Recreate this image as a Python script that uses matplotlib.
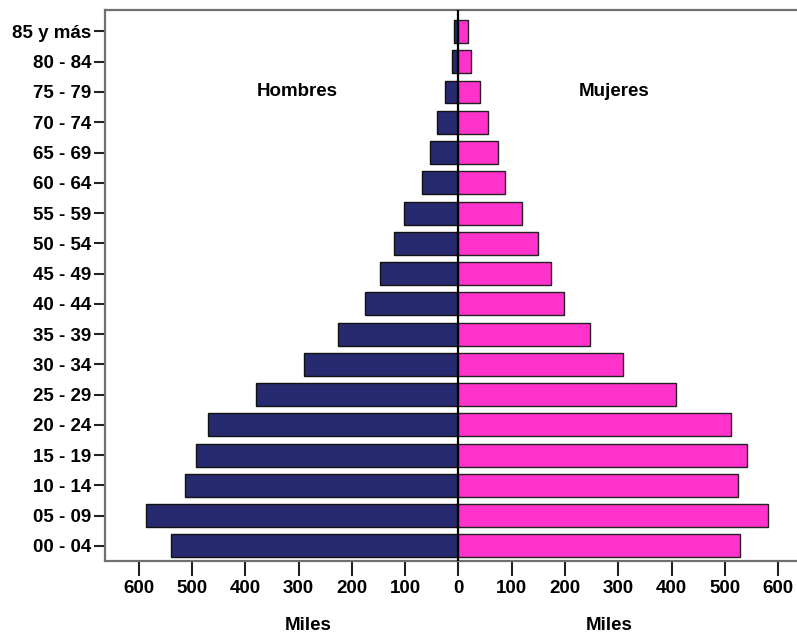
import matplotlib
matplotlib.use("Agg")
import matplotlib.pyplot as plt
import matplotlib.transforms as mtransforms

AGE_GROUPS = ["00 - 04", "05 - 09", "10 - 14", "15 - 19", "20 - 24", "25 - 29",
              "30 - 34", "35 - 39", "40 - 44", "45 - 49", "50 - 54", "55 - 59",
              "60 - 64", "65 - 69", "70 - 74", "75 - 79", "80 - 84", "85 y más"]
HOMBRES = [540, 587, 513, 492, 470, 379, 289, 226, 175, 147, 121, 102,
           68, 54, 40, 26, 13, 8]
MUJERES = [528, 581, 525, 542, 511, 408, 309, 247, 198, 174, 149, 119,
           87, 74, 56, 40, 23, 17]
X_TICKS = [-600, -500, -400, -300, -200, -100, 0, 100, 200, 300, 400, 500, 600]

MEN_COLOR = "#282a70"
WOMEN_COLOR = "#ff33cc"
SPINE_COLOR = "#707070"
FS = 13.5

plt.rcParams["font.family"] = ["Liberation Sans", "DejaVu Sans"]
plt.rcParams["font.weight"] = "bold"

fig = plt.figure(figsize=(7.97, 6.32), dpi=100)
ax = fig.add_axes([105 / 797, 1 - 561 / 632, 1 - 105 / 797, (561 - 10) / 632])

y = list(range(len(AGE_GROUPS)))
ax.barh(y, [-v for v in HOMBRES], height=0.76, color=MEN_COLOR, edgecolor="#111111", linewidth=1.0, zorder=2)
ax.barh(y, MUJERES, height=0.76, color=WOMEN_COLOR, edgecolor="#222222", linewidth=1.0, zorder=2)
ax.axvline(0, color="black", linewidth=1.6, zorder=3)

ax.set_xlim(-663, 635)
ax.set_ylim(-0.5, len(AGE_GROUPS) - 1 + 0.71)
ax.set_yticks(y)
ax.set_yticklabels(AGE_GROUPS, fontsize=FS, fontweight="bold")
ax.set_xticks(X_TICKS)
ax.set_xticklabels([str(abs(t)) for t in X_TICKS], fontsize=FS, fontweight="bold")

ax.tick_params(axis="y", length=8, width=1.5, color="#222222", pad=2)
ax.tick_params(axis="x", length=11, width=1.5, color="#222222", pad=3)
for side in ("left", "top", "bottom"):
    ax.spines[side].set_color(SPINE_COLOR)
    ax.spines[side].set_linewidth(1.6)
ax.spines["right"].set_visible(False)

ax.text(-303, 15, "Hombres", ha="center", va="center", fontsize=FS, fontweight="bold")
ax.text(292, 15, "Mujeres", ha="center", va="center", fontsize=FS, fontweight="bold")

trans = mtransforms.blended_transform_factory(ax.transData, fig.transFigure)
ax.text(-282, 1 - 625 / 632, "Miles", transform=trans, ha="center", va="center", fontsize=FS, fontweight="bold")
ax.text(282, 1 - 625 / 632, "Miles", transform=trans, ha="center", va="center", fontsize=FS, fontweight="bold")

fig.savefig("out.png", dpi=100)
